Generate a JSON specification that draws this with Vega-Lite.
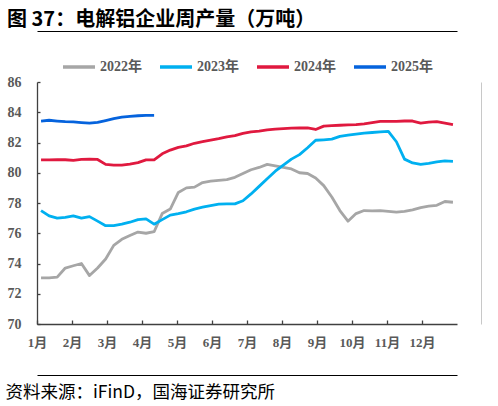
{
  "$schema": "https://vega.github.io/schema/vega-lite/v6.json",
  "autosize": {"type": "none"},
  "width": 420,
  "height": 242,
  "padding": {"left": 37, "top": 82, "right": 41, "bottom": 82},
  "background": "#ffffff",
  "title": {
    "text": "图 37：电解铝企业周产量（万吨）",
    "anchor": "start",
    "frame": "group",
    "dx": -30,
    "dy": 22,
    "offset": 7,
    "baseline": "alphabetic",
    "font": "Noto Sans CJK SC",
    "fontSize": 20,
    "fontWeight": "bold",
    "color": "#000000"
  },
  "config": {
    "view": {"stroke": null},
    "axis": {"grid": false}
  },
  "data": {
    "values": [
      {"week": 1, "2022年": 73.05, "2023年": 77.5, "2024年": 80.85, "2025年": 83.42},
      {"week": 2, "2022年": 73.05, "2023年": 77.15, "2024年": 80.85, "2025年": 83.47},
      {"week": 3, "2022年": 73.1, "2023年": 77.0, "2024年": 80.87, "2025年": 83.42},
      {"week": 4, "2022年": 73.7, "2023年": 77.05, "2024年": 80.86, "2025年": 83.38},
      {"week": 5, "2022年": 73.85, "2023年": 77.15, "2024年": 80.82, "2025年": 83.36},
      {"week": 6, "2022年": 74.0, "2023年": 77.0, "2024年": 80.88, "2025年": 83.32},
      {"week": 7, "2022年": 73.2, "2023年": 77.1, "2024年": 80.9, "2025年": 83.28},
      {"week": 8, "2022年": 73.7, "2023年": 76.8, "2024年": 80.88, "2025年": 83.33},
      {"week": 9, "2022年": 74.3, "2023年": 76.5, "2024年": 80.55, "2025年": 83.45},
      {"week": 10, "2022年": 75.2, "2023年": 76.5, "2024年": 80.5, "2025年": 83.58},
      {"week": 11, "2022年": 75.6, "2023年": 76.6, "2024年": 80.5, "2025年": 83.68},
      {"week": 12, "2022年": 75.85, "2023年": 76.73, "2024年": 80.57, "2025年": 83.73},
      {"week": 13, "2022年": 76.08, "2023年": 76.9, "2024年": 80.67, "2025年": 83.77},
      {"week": 14, "2022年": 76.0, "2023年": 76.95, "2024年": 80.85, "2025年": 83.8},
      {"week": 15, "2022年": 76.1, "2023年": 76.6, "2024年": 80.85, "2025年": 83.8},
      {"week": 16, "2022年": 77.3, "2023年": 76.9, "2024年": 81.25},
      {"week": 17, "2022年": 77.6, "2023年": 77.2, "2024年": 81.5},
      {"week": 18, "2022年": 78.7, "2023年": 77.3, "2024年": 81.68},
      {"week": 19, "2022年": 79.0, "2023年": 77.42, "2024年": 81.78},
      {"week": 20, "2022年": 79.05, "2023年": 77.6, "2024年": 81.95},
      {"week": 21, "2022年": 79.35, "2023年": 77.72, "2024年": 82.05},
      {"week": 22, "2022年": 79.45, "2023年": 77.83, "2024年": 82.15},
      {"week": 23, "2022年": 79.5, "2023年": 77.92, "2024年": 82.25},
      {"week": 24, "2022年": 79.55, "2023年": 77.94, "2024年": 82.37},
      {"week": 25, "2022年": 79.7, "2023年": 77.94, "2024年": 82.45},
      {"week": 26, "2022年": 79.95, "2023年": 78.15, "2024年": 82.6},
      {"week": 27, "2022年": 80.2, "2023年": 78.6, "2024年": 82.7},
      {"week": 28, "2022年": 80.35, "2023年": 79.1, "2024年": 82.75},
      {"week": 29, "2022年": 80.55, "2023年": 79.6, "2024年": 82.83},
      {"week": 30, "2022年": 80.45, "2023年": 80.1, "2024年": 82.88},
      {"week": 31, "2022年": 80.35, "2023年": 80.5, "2024年": 82.92},
      {"week": 32, "2022年": 80.25, "2023年": 80.9, "2024年": 82.95},
      {"week": 33, "2022年": 80.0, "2023年": 81.2, "2024年": 82.96},
      {"week": 34, "2022年": 79.95, "2023年": 81.65, "2024年": 82.96},
      {"week": 35, "2022年": 79.65, "2023年": 82.15, "2024年": 82.86},
      {"week": 36, "2022年": 79.15, "2023年": 82.18, "2024年": 83.08},
      {"week": 37, "2022年": 78.4, "2023年": 82.22, "2024年": 83.12},
      {"week": 38, "2022年": 77.5, "2023年": 82.4, "2024年": 83.14},
      {"week": 39, "2022年": 76.8, "2023年": 82.48, "2024年": 83.16},
      {"week": 40, "2022年": 77.3, "2023年": 82.55, "2024年": 83.18},
      {"week": 41, "2022年": 77.5, "2023年": 82.62, "2024年": 83.23},
      {"week": 42, "2022年": 77.48, "2023年": 82.66, "2024年": 83.32},
      {"week": 43, "2022年": 77.5, "2023年": 82.7, "2024年": 83.4},
      {"week": 44, "2022年": 77.45, "2023年": 82.74, "2024年": 83.4},
      {"week": 45, "2022年": 77.4, "2023年": 82.05, "2024年": 83.4},
      {"week": 46, "2022年": 77.45, "2023年": 80.9, "2024年": 83.42},
      {"week": 47, "2022年": 77.55, "2023年": 80.65, "2024年": 83.42},
      {"week": 48, "2022年": 77.7, "2023年": 80.55, "2024年": 83.28},
      {"week": 49, "2022年": 77.8, "2023年": 80.62, "2024年": 83.35},
      {"week": 50, "2022年": 77.85, "2023年": 80.72, "2024年": 83.38},
      {"week": 51, "2022年": 78.1, "2023年": 80.78, "2024年": 83.28},
      {"week": 52, "2022年": 78.05, "2023年": 80.75, "2024年": 83.18}
    ]
  },
  "transform": [
    {"fold": ["2022年", "2023年", "2024年", "2025年"], "as": ["year", "value"]},
    {"filter": "isValid(datum.value)"}
  ],
  "resolve": {"axis": {"x": "independent", "y": "independent"}},
  "layer": [
    {
      "mark": {"type": "line", "strokeWidth": 2.8, "strokeJoin": "round", "strokeCap": "butt"},
      "encoding": {
        "x": {
          "field": "week",
          "type": "quantitative",
          "scale": {"domain": [0.5, 52.5], "nice": false, "zero": false},
          "axis": {
            "orient": "bottom",
            "title": null,
            "values": [0.5, 4.8333, 9.1667, 13.5, 17.8333, 22.1667, 26.5, 30.8333, 35.1667, 39.5, 43.8333, 48.1667],
            "labelExpr": "round((datum.value - 0.5) * 12 / 52) + 1 + '月'",
            "domainColor": "#404040",
            "domainWidth": 1.3,
            "tickColor": "#404040",
            "tickWidth": 1.3,
            "tickSize": -4,
            "labelPadding": 16,
            "labelFont": "Liberation Serif, Noto Sans CJK SC",
            "labelFontSize": 13,
            "labelFontWeight": "bold",
            "labelColor": "#595959",
            "labelFlush": false,
            "labelOverlap": false
          }
        },
        "y": {
          "field": "value",
          "type": "quantitative",
          "scale": {"domain": [70, 86], "nice": false, "zero": false},
          "axis": {
            "orient": "left",
            "title": null,
            "values": [70, 72, 74, 76, 78, 80, 82, 84, 86],
            "domainColor": "#404040",
            "domainWidth": 1.3,
            "tickColor": "#404040",
            "tickWidth": 1.3,
            "tickSize": -3,
            "labelPadding": 19,
            "labelFont": "Liberation Serif",
            "labelFontSize": 14,
            "labelFontWeight": "bold",
            "labelColor": "#595959"
          }
        },
        "color": {
          "field": "year",
          "type": "nominal",
          "scale": {
            "domain": ["2022年", "2023年", "2024年", "2025年"],
            "range": ["#a6a6a6", "#00b0f0", "#e0193f", "#0563dd"]
          },
          "legend": {
            "title": null,
            "orient": "none",
            "direction": "horizontal",
            "legendX": 24,
            "legendY": -33,
            "symbolType": "stroke",
            "symbolSize": 1024,
            "symbolStrokeWidth": 3.5,
            "labelOffset": 3,
            "columnPadding": 11,
            "labelFont": "Liberation Serif, Noto Sans CJK SC",
            "labelFontSize": 14,
            "labelFontWeight": "bold",
            "labelColor": "#595959"
          }
        }
      }
    },
    {
      "mark": {"type": "line", "opacity": 0},
      "encoding": {
        "x": {
          "field": "week",
          "type": "quantitative",
          "axis": {
            "orient": "top",
            "offset": 51,
            "title": null,
            "values": [],
            "minExtent": 0,
            "maxExtent": 0,
            "domainColor": "#000000",
            "domainWidth": 1.2
          }
        },
        "y": {
          "field": "value",
          "type": "quantitative",
          "axis": {
            "orient": "right",
            "offset": 24,
            "title": null,
            "ticks": false,
            "labelOpacity": 0,
            "minExtent": 0,
            "maxExtent": 0,
            "domainColor": "#c8c8c8",
            "domainWidth": 1
          }
        }
      }
    },
    {
      "mark": {"type": "line", "opacity": 0},
      "encoding": {
        "x": {
          "field": "week",
          "type": "quantitative",
          "axis": {
            "orient": "bottom",
            "offset": 51,
            "ticks": false,
            "labelOpacity": 0,
            "domainColor": "#000000",
            "domainWidth": 1.2,
            "title": "资料来源：iFinD，国海证券研究所",
            "titleX": -32,
            "titleY": 17,
            "titleAlign": "left",
            "titleAnchor": "start",
            "titleBaseline": "middle",
            "titleFont": "Noto Sans CJK SC",
            "titleFontSize": 17.5,
            "titleFontWeight": "normal",
            "titleColor": "#000000"
          }
        },
        "y": {"field": "value", "type": "quantitative", "axis": null},
        "detail": {"field": "year"}
      }
    }
  ]
}
